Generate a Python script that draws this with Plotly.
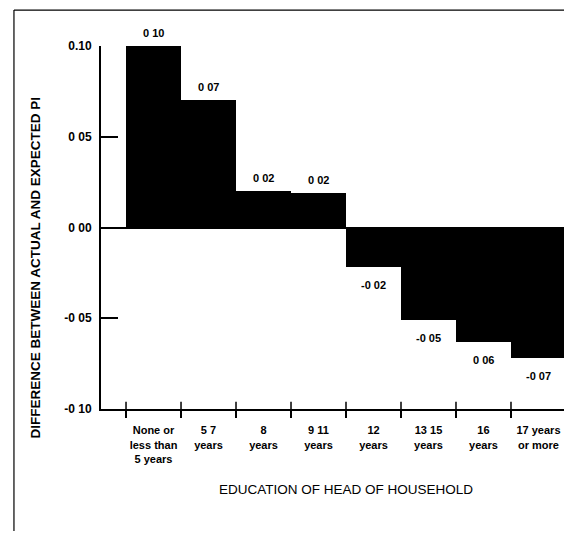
import plotly.graph_objects as go

categories = ["None or<br>less than<br>5 years", "5 7<br>years", "8<br>years", "9 11<br>years",
              "12<br>years", "13 15<br>years", "16<br>years", "17 years<br>or more"]
values = [0.100, 0.070, 0.020, 0.019, -0.022, -0.051, -0.063, -0.072]
value_labels = ["0 10", "0 07", "0 02", "0 02", "-0 02", "-0 05", "0 06", "-0 07"]
ytick_vals = [-0.10, -0.05, 0.00, 0.05, 0.10]
ytick_text = ["-0 10", "-0 05", "0 00", "0 05", "0.10"]

FONT = "Liberation Sans, Arial, sans-serif"
xpos = list(range(len(categories)))
edges = [i - 0.5 for i in xpos]

fig = go.Figure()
fig.add_trace(go.Bar(x=xpos, y=values, width=1.0,
                     marker=dict(color="black", line=dict(width=0)),
                     hoverinfo="skip", showlegend=False))

annotations = []
for x, v, t in zip(xpos, values, value_labels):
    annotations.append(dict(x=x, y=v, xref="x", yref="y", text="<b>" + t + "</b>",
                            showarrow=False, yanchor="middle",
                            yshift=13 if v > 0 else -18,
                            font=dict(family=FONT, size=11, color="black")))
annotations.append(dict(x=-0.1425, y=0.39, xref="paper", yref="paper",
                        xanchor="center", yanchor="middle",
                        text="<b>DIFFERENCE BETWEEN ACTUAL AND EXPECTED PI</b>",
                        textangle=-90, showarrow=False,
                        font=dict(family=FONT, size=13.5, color="black")))
annotations.append(dict(x=0.529, y=-0.223, xref="paper", yref="paper",
                        xanchor="center", yanchor="middle",
                        text="EDUCATION OF HEAD OF HOUSEHOLD", showarrow=False,
                        font=dict(family=FONT, size=13.5, color="black")))

shapes = []
for e in edges:
    shapes.append(dict(type="line", xref="x", yref="paper", x0=e, x1=e, y0=0, y1=0.02,
                       line=dict(color="black", width=1.5)))
# scan frame lines
shapes.append(dict(type="line", xref="paper", yref="paper", x0=-0.188, x1=-0.188,
                   y0=1.099, y1=-0.36, line=dict(color="black", width=1.2)))
shapes.append(dict(type="line", xref="paper", yref="paper", x0=-0.188, x1=1.0,
                   y0=1.099, y1=1.099, line=dict(color="black", width=1.2)))

fig.update_layout(
    width=556, height=523,
    margin=dict(l=93, r=0, t=38, b=122),
    paper_bgcolor="white", plot_bgcolor="white",
    bargap=0,
    annotations=annotations, shapes=shapes,
    xaxis=dict(range=[-0.955, 7.464], tickvals=xpos, ticktext=["<b>" + c + "</b>" for c in categories],
               ticks="", showline=True, linecolor="black", linewidth=2,
               showgrid=False, zeroline=False, ticklabelstandoff=10,
               tickfont=dict(family=FONT, size=11, color="black"),
               minor=dict(tickmode="array", tickvals=edges, ticks="outside", ticklen=7,
                          tickwidth=1.5, tickcolor="black", showgrid=False)),
    yaxis=dict(range=[-0.10, 0.10], tickvals=ytick_vals, ticktext=["<b>" + t + "</b>" for t in ytick_text],
               ticks="inside", ticklen=17, tickwidth=1.5, tickcolor="black",
               showline=True, linecolor="black", linewidth=2,
               showgrid=False, zeroline=True, zerolinecolor="black", zerolinewidth=1.5,
               ticklabelstandoff=5,
               tickfont=dict(family=FONT, size=12, color="black")),
)

fig.write_html("out.html")
